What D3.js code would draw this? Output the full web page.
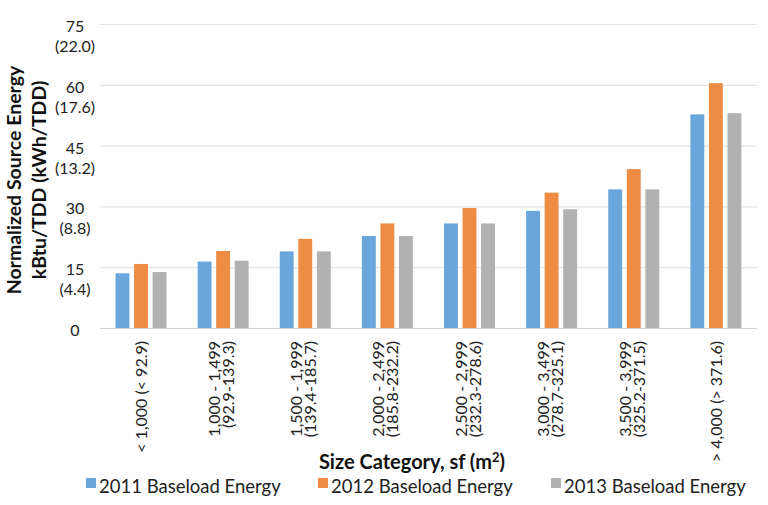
<!doctype html>
<html lang="en">
<head>
  <meta charset="UTF-8">
  <title>Baseload Energy</title>
  <script src="https://cdn.jsdelivr.net/npm/d3@7"></script>
</head>
<body style="margin: 0; background: white">
<div id="container"></div>
<script type="text/javascript">
var categories = [
  ['< 1,000 (< 92.9)'],
  ['1,000 - 1,499', '(92.9-139.3)'],
  ['1,500 - 1,999', '(139.4-185.7)'],
  ['2,000 - 2,499', '(185.8-232.2)'],
  ['2,500 - 2,999', '(232.3-278.6)'],
  ['3,000 - 3,499', '(278.7-325.1)'],
  ['3,500 - 3,999', '(325.2-371.5)'],
  ['> 4,000 (> 371.6)']
];
var seriesNames = ['2011 Baseload Energy', '2012 Baseload Energy', '2013 Baseload Energy'];
var values2011 = [13.5, 16.4, 18.9, 22.7, 25.8, 28.9, 34.2, 52.7];
var values2012 = [15.8, 19.0, 22.0, 25.8, 29.6, 33.4, 39.2, 60.4];
var values2013 = [13.8, 16.6, 18.9, 22.7, 25.8, 29.3, 34.2, 53.0];
var yTicks = [0, 15, 30, 45, 60, 75];
var yTicksKwh = ['', '(4.4)', '(8.8)', '(13.2)', '(17.6)', '(22.0)'];

var colors = ['#6AA6DB', '#EF8C44', '#B1B1B1'];
var font = 'Lato, "Open Sans", sans-serif';

var svg = d3.select('#container').append('svg')
  .attr('width', 768)
  .attr('height', 505)
  .style('font-family', font);

var plotLeft = 100, plotRight = 757, plotTop = 24, plotBottom = 328;

var x0 = d3.scaleBand().domain(d3.range(categories.length)).range([plotLeft, plotRight]);
var x1 = d3.scaleBand().domain(d3.range(3)).range([15.5, 66.5]).paddingInner(0.25);
var y = d3.scaleLinear().domain([0, 75]).range([plotBottom, plotTop]);

// gridlines
svg.append('g').selectAll('line').data(yTicks).enter()
  .append('line')
  .attr('x1', plotLeft).attr('x2', plotRight)
  .attr('y1', function(d) { return y(d) + 0.5 })
  .attr('y2', function(d) { return y(d) + 0.5 })
  .attr('stroke', function(d) { return d == 0 ? '#D0D0D0' : '#E3E3E3' })
  .attr('stroke-width', 1.2);

// y tick labels (two lines)
var yl = svg.append('g').selectAll('g').data(yTicks).enter()
  .append('g')
  .attr('transform', function(d) { return 'translate(75,' + y(d) + ')' });
yl.append('text')
  .attr('text-anchor', 'middle')
  .attr('y', 8)
  .style('font-size', '16px')
  .attr('fill', '#222')
  .text(function(d) { return d });
yl.append('text')
  .attr('text-anchor', 'middle')
  .attr('y', 28)
  .style('font-size', '16px')
  .attr('fill', '#222')
  .text(function(d, i) { return yTicksKwh[i] });

// bars
var series = [values2011, values2012, values2013];
var groups = svg.append('g').selectAll('g').data(categories).enter()
  .append('g')
  .attr('transform', function(d, i) { return 'translate(' + x0(i) + ',0)' });
groups.selectAll('rect')
  .data(function(d, i) { return series.map(function(s, k) { return {k: k, v: s[i]} }) })
  .enter().append('rect')
  .attr('x', function(d) { return x1(d.k) })
  .attr('width', x1.bandwidth())
  .attr('y', function(d) { return y(d.v) })
  .attr('height', function(d) { return y(0) - y(d.v) })
  .attr('fill', function(d) { return colors[d.k] });

// x category labels, rotated
groups.each(function(lines, i) {
  var cx = x0.bandwidth() / 2;
  var offs = lines.length == 1 ? [6] : [-3, 11];
  var g = d3.select(this);
  lines.forEach(function(line, j) {
    g.append('text')
      .attr('transform', 'translate(' + (cx + offs[j]) + ',341) rotate(-90)')
      .attr('text-anchor', 'end')
      .style('font-size', '16px')
      .attr('fill', '#222')
      .text(line);
  });
});

// axis titles
var yt = svg.append('text')
  .attr('transform', 'translate(0,180) rotate(-90)')
  .attr('text-anchor', 'middle')
  .style('font-size', '19.5px')
  .style('font-weight', 'bold')
  .attr('fill', '#111');
yt.append('tspan').attr('x', 0).attr('y', 21).text('Normalized Source Energy');
yt.append('tspan').attr('x', 0).attr('y', 46).text('kBtu/TDD (kWh/TDD)');

var xt = svg.append('text')
  .attr('x', 412)
  .attr('y', 469)
  .attr('text-anchor', 'middle')
  .style('font-size', '20px')
  .style('font-weight', 'bold')
  .attr('fill', '#111');
xt.append('tspan').text('Size Category, sf (m');
xt.append('tspan').attr('dy', -7).style('font-size', '13px').text('2');
xt.append('tspan').attr('dy', 7).text(')');

// legend
var legendX = [86, 318, 551];
var lg = svg.append('g').selectAll('g').data(seriesNames).enter()
  .append('g')
  .attr('transform', function(d, i) { return 'translate(' + legendX[i] + ',488)' });
lg.append('rect')
  .attr('x', 0).attr('y', -10)
  .attr('width', 10).attr('height', 10)
  .attr('fill', function(d, i) { return colors[i] });
lg.append('text')
  .attr('x', 13)
  .attr('y', 5)
  .style('font-size', '18.5px')
  .attr('fill', '#222')
  .text(function(d) { return d });
</script>
</body>
</html>
